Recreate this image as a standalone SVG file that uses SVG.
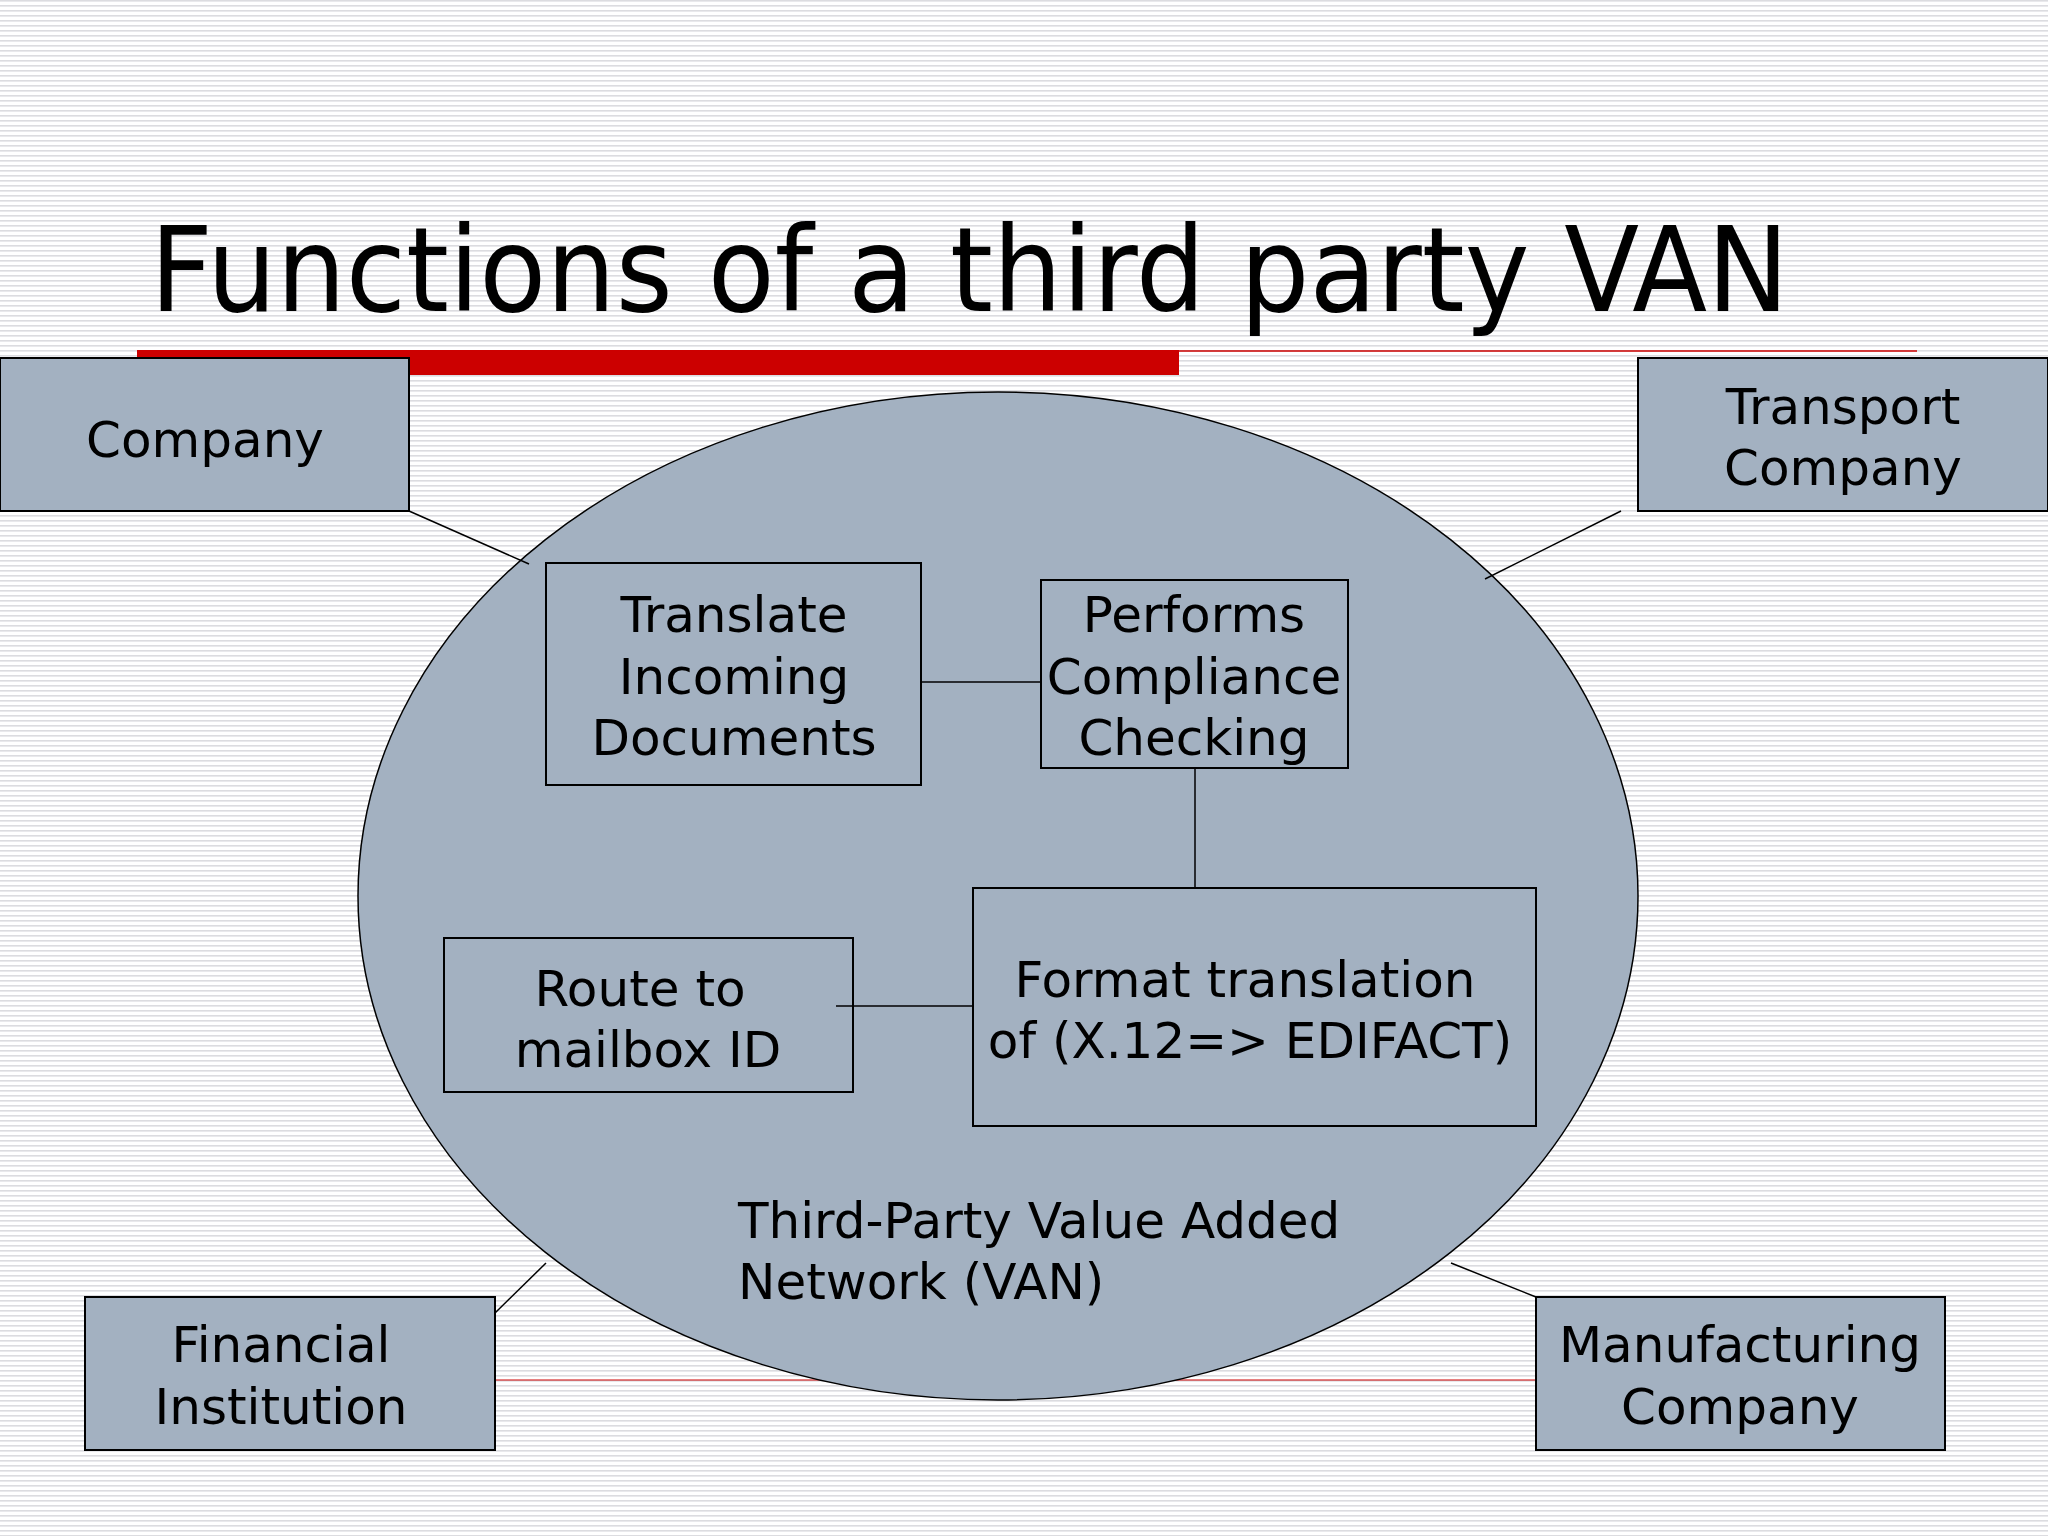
<svg xmlns="http://www.w3.org/2000/svg" width="2048" height="1536" viewBox="0 0 2048 1536">
<defs>
<pattern id="stripes" width="8" height="5" patternUnits="userSpaceOnUse">
<rect width="8" height="5" fill="#ffffff"/>
<rect y="0" width="8" height="1.6" fill="#dcdce0"/>
</pattern>
<style>
.box{fill:#a3b1c1;stroke:#000;stroke-width:2}
.t{font-family:"DejaVu Sans",Verdana,sans-serif;font-size:50px;fill:#000;text-anchor:middle}
.c{stroke:#000;stroke-width:1.5;fill:none}
</style>
</defs>
<rect width="2048" height="1536" fill="url(#stripes)"/>
<text x="150" y="311" font-family="DejaVu Sans,Verdana,sans-serif" font-size="118" textLength="1639" lengthAdjust="spacingAndGlyphs">Functions of a third party VAN</text>
<rect x="137" y="350" width="1042" height="25" fill="#cc0000"/>
<line x1="1179" y1="351" x2="1917" y2="351" stroke="#cc0000" stroke-width="1.5"/>
<line x1="495" y1="1380" x2="1536" y2="1380" stroke="#cc0000" stroke-width="1"/>
<g id="van">
<ellipse cx="998" cy="896" rx="640" ry="504" fill="#a3b1c1" stroke="#000" stroke-width="1.5"/>
<text class="t" x="738" y="1238" text-anchor="start" style="text-anchor:start">Third-Party Value Added</text>
<text class="t" x="738" y="1299" style="text-anchor:start">Network (VAN)</text>
</g>
<g id="connectors">
<line class="c" x1="921" y1="682" x2="1041" y2="682"/>
<line class="c" x1="1195" y1="768" x2="1195" y2="888"/>
<line class="c" x1="836" y1="1006" x2="973" y2="1006"/>
<line class="c" x1="409" y1="511" x2="529" y2="564"/>
<line class="c" x1="1621" y1="511" x2="1485" y2="579"/>
<line class="c" x1="495" y1="1313" x2="546" y2="1263"/>
<line class="c" x1="1536" y1="1297" x2="1451" y2="1263"/>
</g>
<g id="company"><rect class="box" x="0" y="358" width="409" height="153"/><text class="t" x="205" y="457">Company</text></g>
<g id="transport"><rect class="box" x="1638" y="358" width="410" height="153"/><text class="t" x="1843" y="424">Transport</text><text class="t" x="1843" y="485">Company</text></g>
<g id="financial"><rect class="box" x="85" y="1297" width="410" height="153"/><text class="t" x="281" y="1362">Financial</text><text class="t" x="281" y="1424">Institution</text></g>
<g id="manufacturing"><rect class="box" x="1536" y="1297" width="409" height="153"/><text class="t" x="1740" y="1362">Manufacturing</text><text class="t" x="1740" y="1424">Company</text></g>
<g id="translate"><rect class="box" x="546" y="563" width="375" height="222" style="fill:none"/><text class="t" x="734" y="632">Translate</text><text class="t" x="734" y="694">Incoming</text><text class="t" x="734" y="755">Documents</text></g>
<g id="performs"><rect class="box" x="1041" y="580" width="307" height="188" style="fill:none"/><text class="t" x="1194" y="632">Performs</text><text class="t" x="1194" y="694">Compliance</text><text class="t" x="1194" y="755">Checking</text></g>
<g id="format"><rect class="box" x="973" y="888" width="563" height="238" style="fill:none"/><text class="t" x="1245" y="997">Format translation</text><text class="t" x="1250" y="1058">of (X.12=&gt; EDIFACT)</text></g>
<g id="route"><rect class="box" x="444" y="938" width="409" height="154" style="fill:none"/><text class="t" x="640" y="1006">Route to</text><text class="t" x="648" y="1067">mailbox ID</text></g>
</svg>
